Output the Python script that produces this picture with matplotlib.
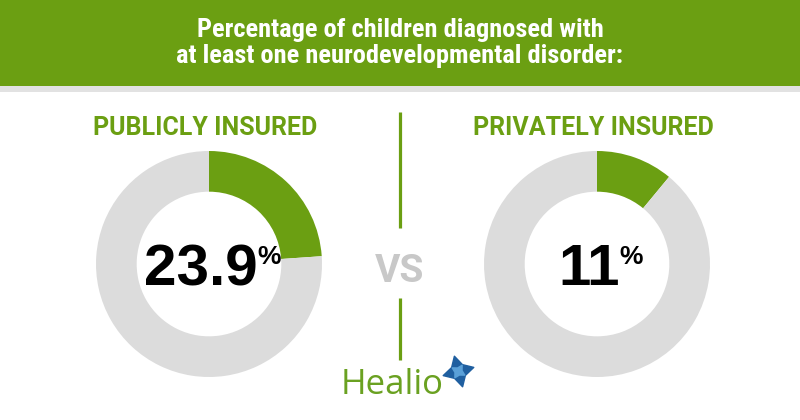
import matplotlib
matplotlib.use("Agg")
import matplotlib.pyplot as plt

# Data
groups = ["PUBLICLY INSURED", "PRIVATELY INSURED"]
pct = [23.9, 11]
pct_labels = ["23.9", "11"]
title = "Percentage of children diagnosed with\nat least one neurodevelopmental disorder:"

GREEN = "#6b9f12"
GRAY = "#dcdcdc"

W, H = 800, 420
fig = plt.figure(figsize=(W / 100, H / 100), dpi=100)
fig.patch.set_facecolor("white")

# canvas axes in pixel coords (y down)
ax = fig.add_axes([0, 0, 1, 1])
ax.set_xlim(0, W)
ax.set_ylim(H, 0)
ax.axis("off")

# header band
ax.add_patch(plt.Rectangle((0, 0), W, 86, color=GREEN, lw=0))
ax.add_patch(plt.Rectangle((0, 86), W, 6, color="#e2e2e2", lw=0))
ax.text(400, 43, title, ha="center", va="center", color="white",
        fontsize=19, fontweight="bold", family="Roboto Condensed",
        linespacing=1.15)

# donuts
centers = [209, 597]
cy, r = 264, 113
for cx, grp, p in zip(centers, groups, pct):
    dax = fig.add_axes([(cx - r) / W, (H - cy - r) / H, 2 * r / W, 2 * r / H])
    dax.pie([p, 100 - p], colors=[GREEN, GRAY], startangle=90,
            counterclock=False, radius=1,
            wedgeprops=dict(width=0.36, linewidth=0))
    dax.set_xlim(-1, 1)
    dax.set_ylim(-1, 1)
    dax.set_aspect("equal")

    ax.text(cx - 4, 128, grp, ha="center", va="center", color=GREEN,
            fontsize=18, fontweight="bold", family="Roboto")

# numbers in the middle of each donut
num_right = [258, 620]
for xr, lab in zip(num_right, pct_labels):
    ax.text(xr, 285, lab, ha="right", va="baseline", color="black",
            fontsize=42, fontweight="bold", family="Liberation Sans", zorder=5)
    ax.text(xr - 1, 245, "%", ha="left", va="top", color="black",
            fontsize=19, fontweight="bold", family="Liberation Sans", zorder=5)

# divider + VS
ax.plot([400, 400], [112, 228], color=GREEN, lw=2.3, solid_capstyle="butt")
ax.plot([400, 400], [298, 360], color=GREEN, lw=2.3, solid_capstyle="butt")
ax.text(400, 272, "VS", ha="center", va="center", color="#c8c8c8",
        fontsize=28, fontweight="bold", family="Roboto")

# logo
ax.text(341, 394, "Healio", ha="left", va="baseline", color="#6aa121",
        fontsize=25, family="Open Sans")
ax.scatter([458], [371], marker=(4, 1, 15), s=520, color="#1f5fa0", zorder=6)
ax.scatter([458], [371], marker=(4, 1, 60), s=110, color="#5aa0d8", zorder=7)

fig.savefig("out.png", dpi=100)
